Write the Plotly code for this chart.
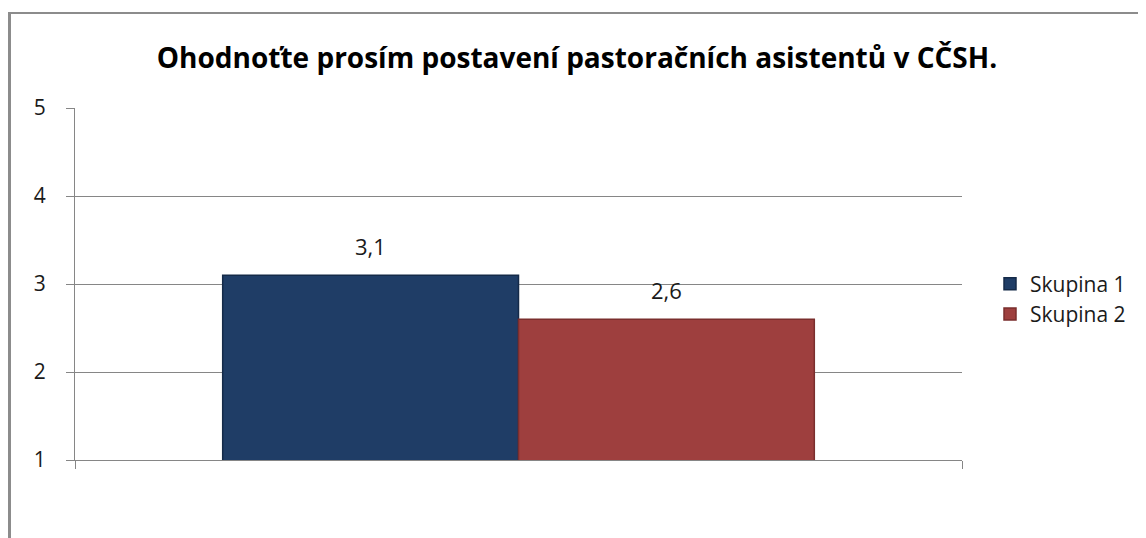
import plotly.graph_objects as go

title = "Ohodnoťte prosím postavení pastoračních asistentů v CČSH."
series = ["Skupina 1", "Skupina 2"]
values = [3.1, 2.6]
colors = ["#1F3D66", "#9E3F3E"]
line_colors = ["#142a48", "#7a2e2d"]
yticks = [1, 2, 3, 4, 5]

OFF = 8  # page body margin
W, H = 1146 - OFF, 538 - OFF
L, T = 75 - OFF, 108 - OFF
pw = 962 - 75
ph = 460 - 108
R = W - L - pw
B = H - T - ph

FONT = "Open Sans"
BARGAP = 0.333

def fx(px):  # reference pixel x -> paper
    return (px - OFF - L) / pw

def fy(py):  # reference pixel y -> paper
    return 1 - (py - OFF - T) / ph

fig = go.Figure()
for name, v, c, lc in zip(series, values, colors, line_colors):
    fig.add_trace(go.Bar(
        x=[0], y=[v], name=name,
        marker=dict(color=c, line=dict(color=lc, width=1.5)),
    ))

# value labels above bars
gw = 1 - BARGAP
n = len(values)
annotations = []
for i, v in enumerate(values):
    xc = -gw / 2 + gw / n * (i + 0.5)
    annotations.append(dict(
        x=xc, y=v, xref="x", yref="y", text=f"{v:.1f}".replace(".", ","),
        showarrow=False, yanchor="bottom", yshift=12,
        font=dict(size=22, color="#1a1a1a", family=FONT),
    ))

fig.update_layout(
    width=W, height=H,
    margin=dict(l=L, r=R, t=T, b=B, pad=0),
    paper_bgcolor="white", plot_bgcolor="white",
    barmode="group", bargap=BARGAP, bargroupgap=0,
    font=dict(family=FONT, size=21, color="#1a1a1a"),
    title=dict(text="<b>" + title + "</b>", x=0.5, xref="container", xanchor="center",
               y=1 - (58 - OFF) / H, yanchor="middle", yref="container",
               font=dict(size=28, color="#000000", family=FONT)),
    legend=dict(x=fx(990), y=fy(299), xanchor="left", yanchor="middle",
                font=dict(size=21, color="#1a1a1a", family=FONT), bgcolor="rgba(0,0,0,0)",
                itemwidth=30),
    xaxis=dict(range=[-0.5, 0.5], tickvals=[-0.5, 0.5], ticks="outside", ticklen=8,
               tickcolor="#868686", showticklabels=False, showgrid=False,
               showline=True, linecolor="#868686", linewidth=1, zeroline=False, fixedrange=True),
    yaxis=dict(range=[1, 5], tickvals=yticks, ticks="outside", ticklen=8, tickcolor="#868686",
               showgrid=True, gridcolor="#868686", gridwidth=1, showline=True,
               linecolor="#868686", linewidth=1, zeroline=False, ticklabelstandoff=16,
               tickfont=dict(size=21, color="#1a1a1a", family=FONT)),
    annotations=annotations,
    shapes=[
        dict(type="line", xref="paper", yref="paper",
             x0=fx(8), x1=fx(1150), y0=fy(13), y1=fy(13),
             line=dict(color="#8c8c8c", width=2)),
        dict(type="line", xref="paper", yref="paper",
             x0=fx(9.5), x1=fx(9.5), y0=fy(12), y1=fy(545),
             line=dict(color="#8c8c8c", width=3)),
    ],
)

fig.write_html("out.html")
